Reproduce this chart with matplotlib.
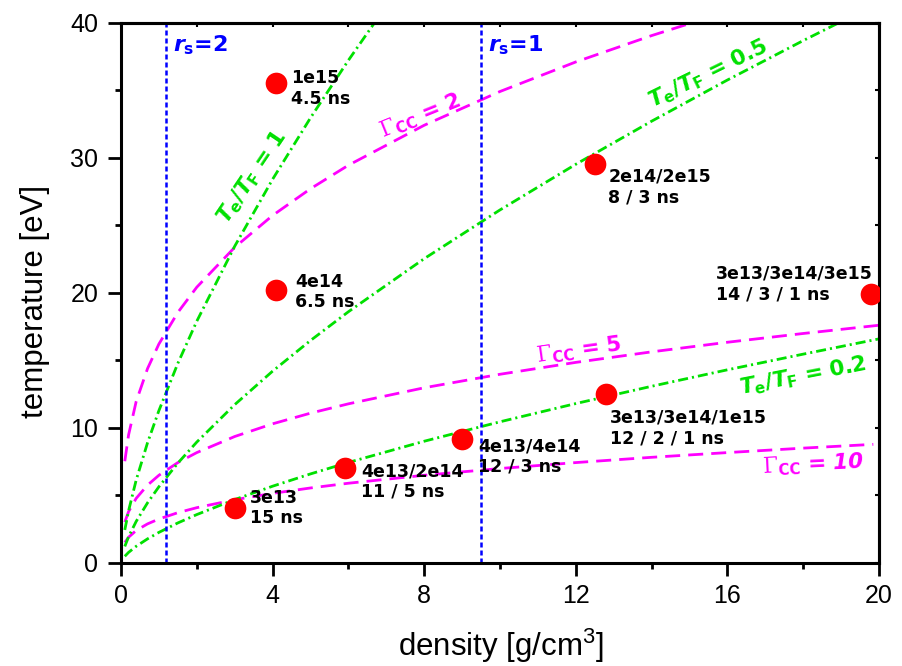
import matplotlib
matplotlib.use("Agg")
import matplotlib.pyplot as plt
from matplotlib.ticker import MultipleLocator

plt.rcParams["font.family"] = ["Liberation Sans", "DejaVu Sans"]
plt.rcParams["mathtext.fontset"] = "custom"
plt.rcParams["mathtext.rm"] = "DejaVu Sans:bold"
plt.rcParams["mathtext.bf"] = "DejaVu Sans:bold"
plt.rcParams["mathtext.it"] = "DejaVu Sans:oblique:bold"
plt.rcParams["mathtext.sf"] = "DejaVu Serif"
plt.rcParams["mathtext.tt"] = "Liberation Sans"

# ---- measured shots: density [g/cm3], temperature [eV] ----
shot_density = [4.1, 4.1, 12.5, 19.8, 12.8, 9.0, 5.9, 3.0]
shot_temperature = [35.5, 20.2, 29.5, 19.9, 12.5, 9.2, 7.05, 4.05]
shot_labels = [
    "1e15\n4.5 ns",
    "4e14\n6.5 ns",
    "2e14/2e15\n8 / 3 ns",
    "3e13/3e14/3e15\n14 / 3 / 1 ns",
    "3e13/3e14/1e15\n12 / 2 / 1 ns",
    "4e13/4e14\n12 / 3 ns",
    "4e13/2e14\n11 / 5 ns",
    "3e13\n15 ns",
]

# ---- coupling parameter contours (Gamma_CC) ----
gamma2_density = [0.1, 0.2, 0.4, 0.7, 1, 1.5, 2, 3, 4, 5, 6, 8, 10, 12, 14, 16]
gamma2_temperature = [7.52, 9.47, 11.94, 14.38, 16.2, 18.54, 20.41, 23.36, 25.72,
                      27.70, 29.44, 32.4, 34.90, 37.09, 39.04, 40.82]

gamma5_density = [0.1, 0.2, 0.4, 0.7, 1, 1.5, 2, 3, 4, 5, 6, 8, 10, 12, 14, 16, 18, 20]
gamma5_temperature = [3.01, 3.79, 4.77, 5.75, 6.48, 7.42, 8.16, 9.35, 10.29, 11.08,
                      11.77, 12.96, 13.96, 14.84, 15.62, 16.33, 16.98, 17.59]

gamma10_density = [0.1, 0.2, 0.4, 0.7, 1, 1.5, 2, 3, 4, 5, 6, 8, 10, 12, 14, 16, 18, 19.85]
gamma10_temperature = [1.50, 1.89, 2.39, 2.88, 3.24, 3.71, 4.08, 4.67, 5.14, 5.54,
                       5.89, 6.48, 6.98, 7.42, 7.81, 8.16, 8.49, 8.77]

# ---- degeneracy contours (Te/TF) ----
deg1_density = [0.1, 0.2, 0.4, 0.7, 1, 1.5, 2, 3, 4, 5, 6, 7]
deg1_temperature = [2.43, 3.85, 6.12, 8.89, 11.27, 14.77, 17.89, 23.44, 28.40,
                    32.95, 37.21, 41.24]

deg05_density = [0.1, 0.2, 0.4, 0.7, 1, 1.5, 2, 3, 4, 5, 6, 8, 10, 12, 14, 16, 18, 20]
deg05_temperature = [1.21, 1.93, 3.06, 4.44, 5.63, 7.38, 8.94, 11.71, 14.19, 16.46,
                     18.59, 22.52, 26.13, 29.51, 32.70, 35.75, 38.67, 41.48]

deg02_density = [0.1, 0.2, 0.4, 0.7, 1, 1.5, 2, 3, 4, 5, 6, 8, 10, 12, 14, 16, 18, 20]
deg02_temperature = [0.48, 0.77, 1.22, 1.77, 2.25, 2.95, 3.57, 4.68, 5.67, 6.58,
                     7.43, 9.0, 10.44, 11.79, 13.07, 14.29, 15.45, 16.58]

# ---- Wigner-Seitz radius markers ----
rs_density = [1.18, 9.5]
rs_labels = ["2", "1"]

MAGENTA = "#FF00FF"
GREEN = "#00E000"
BLUE = "#0000FF"
RED = "#FF0000"
LABEL_FONT = "DejaVu Sans"

fig = plt.figure(figsize=(9.03, 6.66), dpi=100)
ax = fig.add_axes([0.134, 0.155, 0.8394, 0.811])

dash_gamma = (0, (5.4, 2.9))
dash_deg = (0, (3.6, 1.45, 0.75, 1.45))
lw = 2.0

for d, t in [(gamma2_density, gamma2_temperature),
             (gamma5_density, gamma5_temperature),
             (gamma10_density, gamma10_temperature)]:
    ax.plot(d, t, color=MAGENTA, lw=lw, linestyle=dash_gamma, zorder=2)

for d, t in [(deg1_density, deg1_temperature),
             (deg05_density, deg05_temperature),
             (deg02_density, deg02_temperature)]:
    ax.plot(d, t, color=GREEN, lw=lw, linestyle=dash_deg, zorder=2)

for x, lab in zip(rs_density, rs_labels):
    ax.axvline(x, color=BLUE, lw=1.8, linestyle=(0, (2.0, 1.2)), zorder=2)
    ax.annotate(r"$r_{\rm s}$=" + lab, xy=(x, 40), xytext=(5.0, -8),
                textcoords="offset points", ha="left", va="top",
                color=BLUE, fontsize=16, fontweight="bold",
                family=LABEL_FONT)

ax.plot(shot_density, shot_temperature, "o", color=RED, markersize=15.6,
        markeredgewidth=0, zorder=4)

# label placement next to each shot (offset in points, alignment)
label_offsets = [(10.5, -3.6), (13.4, -1.4), (9.7, -16.0), (1.0, 7.0),
                 (2.7, -24.5), (11.7, -13.0), (11.7, -10.0), (10.7, 0.0)]
label_ha = ["left", "left", "left", "right", "left", "left", "left", "left"]
for x, y, s, off, ha in zip(shot_density, shot_temperature, shot_labels,
                            label_offsets, label_ha):
    ax.annotate(s, xy=(x, y), xytext=off, textcoords="offset points",
                ha=ha, va="center", multialignment="left", fontsize=12.5,
                fontweight="bold", linespacing=1.2, color="black", zorder=5,
                family=LABEL_FONT)

# contour labels
gam = r"$\mathsf{\Gamma}_{\rm CC}$"
deg = r"$T_{\rm e}/T_{\rm F}$"
curve_text = dict(fontsize=15.5, fontweight="bold", ha="center", va="center",
                  rotation_mode="anchor", zorder=5, family=LABEL_FONT)
ax.text(7.89, 33.1, gam + " = 2", color=MAGENTA, rotation=22, **curve_text)
ax.text(12.08, 15.7, gam + " = 5", color=MAGENTA, rotation=8, **curve_text)
ax.text(18.26, 7.25, gam + " = 10", color=MAGENTA, rotation=3,
        fontstyle="italic", **curve_text)
ax.text(3.45, 28.6, deg + " = 1", color=GREEN, rotation=56, **curve_text)
ax.text(15.5, 36.2, deg + " = 0.5", color=GREEN, rotation=26, **curve_text)
ax.text(18.0, 13.8, deg + " = 0.2", color=GREEN, rotation=11, **curve_text)

ax.set_xlim(0, 20)
ax.set_ylim(0, 40)
ax.xaxis.set_major_locator(MultipleLocator(4))
ax.xaxis.set_minor_locator(MultipleLocator(2))
ax.yaxis.set_major_locator(MultipleLocator(10))
ax.yaxis.set_minor_locator(MultipleLocator(5))

for sp in ax.spines.values():
    sp.set_linewidth(2.2)
ax.tick_params(which="major", direction="out", length=9.4, width=2.0,
               labelsize=18, pad=6)
ax.tick_params(which="minor", direction="out", length=4.5, width=2.0)
ax.tick_params(axis="y", which="major", pad=7)

# small inward ticks along the top and right frame
top = ax.secondary_xaxis("top")
top.xaxis.set_major_locator(MultipleLocator(2))
top.tick_params(direction="in", length=3, width=1.5, labeltop=False)
top.spines["top"].set_linewidth(2.2)
right = ax.secondary_yaxis("right")
right.yaxis.set_major_locator(MultipleLocator(5))
right.tick_params(direction="in", length=3, width=1.5, labelright=False)
right.spines["right"].set_linewidth(2.2)

ax.set_xlabel(r"density [g/cm$^{\mathtt{3}}$]", fontsize=22.5)
ax.set_ylabel("temperature [eV]", fontsize=22.5)
ax.xaxis.set_label_coords(0.501, -0.118)
ax.yaxis.set_label_coords(-0.094, 0.484)

fig.savefig("out.png", dpi=100)
